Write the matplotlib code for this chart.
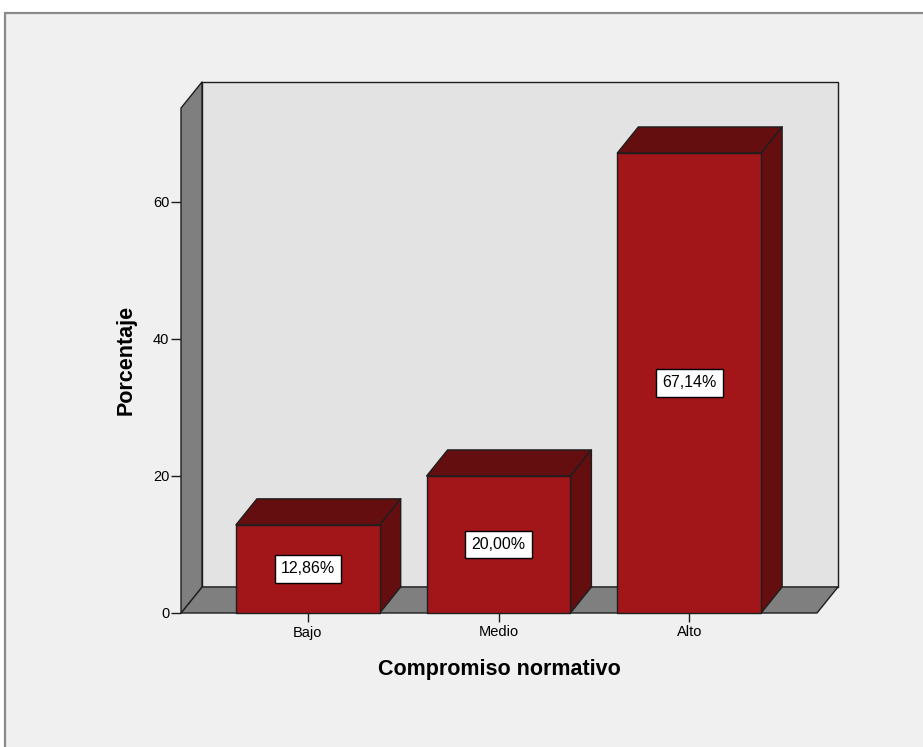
import matplotlib
matplotlib.use("Agg")
import matplotlib.pyplot as plt
from matplotlib.patches import Rectangle, Polygon

plt.rcParams['font.family'] = ['Liberation Sans', 'DejaVu Sans']

# Datos
categorias = ["Bajo", "Medio", "Alto"]
porcentajes = [12.86, 20.00, 67.14]
ticks_y = [0, 20, 40, 60]

titulo_x = "Compromiso normativo"
titulo_y = "Porcentaje"

# estilo tipo SPSS
col_fondo = "#f0f0f0"
col_pared = "#e3e3e3"
col_gris = "#7f7f7f"
col_frente = "#a2161a"
col_oscuro = "#640e10"
col_borde = "#1e1e1e"

ancho = 0.754       # ancho de barra (en unidades de categoria)
dx, dy = 0.11, 3.8  # profundidad 3D
x_min, x_max = -0.665, 2.67
y_techo = 73.7      # altura de la pared lateral

fig = plt.figure(figsize=(9.23, 7.47), dpi=100, facecolor="white")
fig.patches.append(Rectangle((5 / 923, -0.01), 1.0, (747 - 13) / 747 + 0.01,
                             transform=fig.transFigure, facecolor=col_fondo,
                             edgecolor="#8a8a8a", linewidth=1.6, zorder=-1))

ax = fig.add_axes([181 / 923, (747 - 613) / 747, (838 - 181) / 923, (613 - 82) / 747])
ax.set_facecolor("none")
ax.set_xlim(x_min, x_max + dx)
ax.set_ylim(0, y_techo + dy)
for s in ax.spines.values():
    s.set_visible(False)

kw = dict(edgecolor=col_borde, linewidth=1.0, clip_on=False, joinstyle="round")

# pared del fondo, suelo y pared lateral
ax.add_patch(Rectangle((x_min + dx, dy), x_max - x_min, y_techo, facecolor=col_pared, zorder=1, **kw))
ax.add_patch(Polygon([(x_min, 0), (x_max, 0), (x_max + dx, dy), (x_min + dx, dy)],
                     facecolor=col_gris, zorder=2, **kw))
ax.add_patch(Polygon([(x_min, 0), (x_min + dx, dy), (x_min + dx, y_techo + dy), (x_min, y_techo)],
                     facecolor=col_gris, zorder=2, **kw))

# barras 3D
for i, (cat, v) in enumerate(zip(categorias, porcentajes)):
    x0 = i - ancho / 2
    x1 = i + ancho / 2
    ax.add_patch(Polygon([(x0, v), (x1, v), (x1 + dx, v + dy), (x0 + dx, v + dy)],
                         facecolor=col_oscuro, zorder=3, **kw))
    ax.add_patch(Polygon([(x1, 0), (x1 + dx, dy), (x1 + dx, v + dy), (x1, v)],
                         facecolor=col_oscuro, zorder=3, **kw))
    ax.add_patch(Rectangle((x0, 0), ancho, v, facecolor=col_frente, zorder=4, **kw))
    etiqueta = f"{v:.2f}".replace(".", ",") + "%"
    ax.text(i, v / 2, etiqueta, ha="center", va="center", fontsize=11.5, color="black", zorder=5,
            bbox=dict(boxstyle="square,pad=0.38", facecolor="white", edgecolor="black", linewidth=1.0))

ax.set_xticks(range(len(categorias)))
ax.set_xticklabels(categorias, fontsize=10.5)
ax.set_yticks(ticks_y)
ax.set_yticklabels([str(t) for t in ticks_y], fontsize=10.5)
ax.tick_params(axis="x", length=6.5, width=1.0, color=col_borde, pad=2.5)
ax.tick_params(axis="y", length=7.5, width=1.0, color=col_borde, pad=1)

ax.set_xlabel(titulo_x, fontsize=15.5, fontweight="bold", va="center", ha="center")
ax.xaxis.set_label_coords((499 - 181) / (838 - 181), -(670 - 613) / (613 - 82))
ax.set_ylabel(titulo_y, fontsize=15.5, fontweight="bold", va="center", ha="center")
ax.yaxis.set_label_coords(-(181 - 126) / (838 - 181), (613 - 360) / (613 - 82))

fig.savefig("out.png", dpi=100, facecolor=fig.get_facecolor())
